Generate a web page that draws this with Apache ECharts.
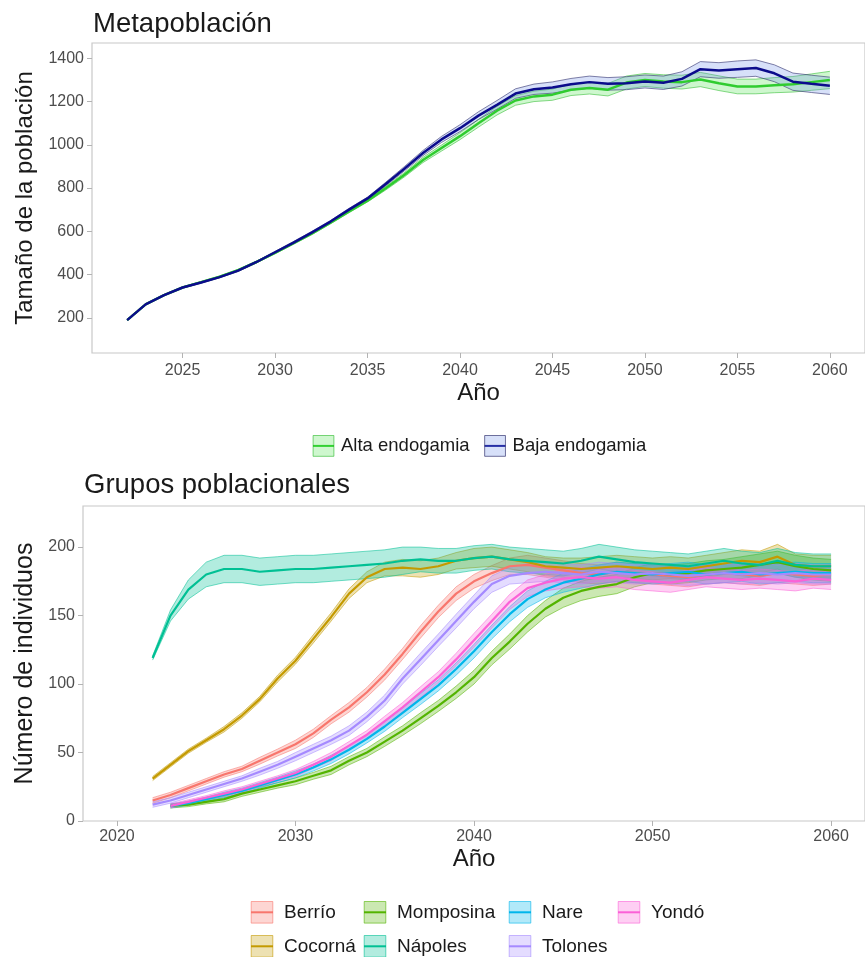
<!DOCTYPE html>
<html>
<head>
<meta charset="utf-8">
<script src="https://cdn.jsdelivr.net/npm/echarts@6/dist/echarts.min.js"></script>
<style>
  html, body { margin: 0; padding: 0; background: #ffffff; }
  #chart { width: 865px; height: 957px; }
</style>
</head>
<body>
<div id="chart"></div>
<script>
// años simulados
var years = [2022, 2023, 2024, 2025, 2026, 2027, 2028, 2029, 2030, 2031,
             2032, 2033, 2034, 2035, 2036, 2037, 2038, 2039, 2040, 2041,
             2042, 2043, 2044, 2045, 2046, 2047, 2048, 2049, 2050, 2051,
             2052, 2053, 2054, 2055, 2056, 2057, 2058, 2059, 2060];

// --- Metapoblación: media y semiancho de la banda ---
var altaMean = [189, 262, 305, 340, 365, 390, 420, 458, 500, 545,
                590, 640, 692, 742, 800, 862, 930, 985, 1040, 1100,
                1158, 1205, 1224, 1232, 1255, 1263, 1255, 1288, 1300, 1293,
                1290, 1302, 1285, 1270, 1270, 1276, 1280, 1290, 1300];
var altaHalf = [3, 3, 3, 3, 3, 3, 4, 4, 4, 5,
                5, 5, 6, 6, 8, 10, 12, 14, 16, 18,
                20, 22, 24, 26, 27, 28, 29, 30, 30, 31,
                32, 33, 34, 34, 34, 35, 36, 38, 40];
var bajaMean = [189, 262, 305, 340, 363, 388, 418, 458, 503, 548,
                595, 645, 700, 752, 820, 890, 962, 1025, 1077, 1135,
                1185, 1237, 1257, 1265, 1280, 1290, 1282, 1285, 1293, 1287,
                1305, 1350, 1344, 1350, 1355, 1331, 1292, 1282, 1273];
var bajaHalf = [3, 3, 3, 3, 3, 3, 4, 4, 4, 5,
                5, 5, 6, 6, 8, 10, 12, 14, 16, 18,
                20, 22, 24, 26, 27, 28, 29, 30, 30, 31,
                33, 35, 36, 38, 38, 39, 40, 40, 40];

// --- Grupos poblacionales ---
var grupos = ['Berrío', 'Cocorná', 'Momposina', 'Nápoles', 'Nare', 'Tolones', 'Yondó'];
var grupoColors = ['#F8766D', '#C49A00', '#53B400', '#00C094', '#00B6EB', '#A58AFF', '#FB61D7'];

var berrioMean = [15, 19, 24, 29, 34, 38, 44, 50, 56, 64,
                  74, 83, 94, 107, 122, 138, 153, 166, 175, 181,
                  186, 187, 185, 183, 181, 180, 182, 181, 180, 179,
                  178, 180, 181, 180, 179, 181, 180, 179, 180];
var berrioHalf = [2, 2, 2, 2, 2, 2, 2.5, 2.5, 3, 3,
                  3, 3.5, 3.5, 4, 4, 4.5, 4.5, 5, 5, 5.5,
                  6, 7, 7, 7, 7, 7, 7, 7, 7, 7,
                  7, 7, 7, 7, 7, 7, 7, 7, 7];
var cocornaMean = [31, 41, 51, 59, 67, 77, 89, 104, 117, 133,
                   149, 166, 178, 184, 185, 184, 186, 190, 192, 193,
                   191, 189, 186, 185, 184, 185, 186, 185, 184, 185,
                   184, 186, 188, 190, 189, 193, 187, 186, 186];
var cocornaHalf = [1.5, 1.5, 1.5, 1.5, 2, 2, 2, 2.5, 2.5, 3,
                   3, 3.5, 4, 5, 6, 6, 6, 6, 7, 7,
                   7, 7, 7, 7, 8, 8, 8, 8, 8, 8,
                   8, 8, 8, 8, 8, 9, 8, 8, 8];
var momposinaMean = [null, 11, 12, 14, 16, 20, 23, 26, 29, 33,
                     37, 44, 50, 58, 66, 75, 84, 94, 105, 119,
                     131, 144, 155, 163, 168, 171, 173, 178, 181, 180,
                     181, 183, 184, 185, 187, 189, 186, 184, 183];
var momposinaHalf = [null, 1.5, 1.5, 1.5, 2, 2, 2, 2, 2.5, 2.5,
                     3, 3, 3, 3.5, 3.5, 4, 4, 4.5, 5, 5,
                     5.5, 6, 6, 7, 7, 7, 7, 7, 7, 7,
                     7, 7, 7, 8, 8, 8, 8, 8, 8];
var napolesMean = [119, 150, 169, 180, 184, 184, 182, 183, 184, 184,
                   185, 186, 187, 188, 190, 191, 190, 190, 192, 193,
                   191, 190, 189, 188, 190, 193, 191, 189, 188, 187,
                   186, 188, 190, 188, 187, 190, 187, 186, 186];
var napolesHalf = [1.5, 4, 7, 9, 10, 10, 10, 10, 10, 10,
                   10, 10, 10, 10, 10, 9, 9, 9, 9, 9,
                   9, 9, 9, 9, 9, 9, 9, 9, 9, 9,
                   9, 9, 9, 9, 9, 9, 9, 9, 9];
var nareMean = [null, 11, 13, 16, 19, 22, 26, 30, 34, 39,
                45, 52, 60, 69, 79, 89, 99, 111, 124, 138,
                151, 162, 169, 174, 177, 180, 182, 181, 180, 181,
                182, 180, 181, 182, 180, 181, 182, 181, 181];
var nareHalf = [null, 1.5, 1.5, 1.5, 2, 2, 2, 2, 2.5, 2.5,
                3, 3, 3, 3.5, 3.5, 4, 4, 4.5, 5, 5,
                5.5, 6, 6, 7, 7, 7, 7, 7, 7, 7,
                7, 7, 7, 7, 7, 7, 7, 7, 7];
var tolonesMean = [12, 15, 19, 23, 27, 31, 36, 41, 47, 53,
                   59, 66, 76, 88, 104, 118, 132, 146, 160, 173,
                   179, 181, 182, 181, 180, 182, 181, 180, 181, 180,
                   179, 180, 181, 180, 181, 180, 181, 180, 180];
var tolonesHalf = [2, 2, 2, 2, 2, 2, 2.5, 2.5, 3, 3,
                   3, 3.5, 3.5, 4, 4, 4.5, 4.5, 5, 5, 6,
                   6, 7, 7, 7, 7, 7, 7, 7, 7, 7,
                   7, 7, 7, 7, 7, 7, 7, 7, 7];
var yondoMean = [null, 11, 14, 17, 20, 23, 27, 31, 35, 41,
                 47, 55, 63, 73, 83, 94, 105, 118, 132, 146,
                 160, 170, 174, 177, 178, 177, 178, 176, 175, 174,
                 176, 178, 177, 176, 177, 176, 175, 177, 176];
var yondoHalf = [null, 1.5, 1.5, 1.5, 2, 2, 2, 2, 2.5, 2.5,
                 3, 3, 3, 3.5, 3.5, 4, 4, 4.5, 5, 5,
                 5.5, 6, 6, 7, 7, 7, 7, 7, 7, 7,
                 7, 7, 7, 7, 7, 7, 7, 7, 7];

var grupoMeans = [berrioMean, cocornaMean, momposinaMean, napolesMean, nareMean, tolonesMean, yondoMean];
var grupoHalfs = [berrioHalf, cocornaHalf, momposinaHalf, napolesHalf, nareHalf, tolonesHalf, yondoHalf];

// ticks
var xTicksTop = [2025, 2030, 2035, 2040, 2045, 2050, 2055, 2060];
var yTicksTop = [200, 400, 600, 800, 1000, 1200, 1400];
var xTicksBottom = [2020, 2030, 2040, 2050, 2060];
var yTicksBottom = [0, 50, 100, 150, 200];

var FONT = '"Liberation Sans", Arial, sans-serif';

function rgba(hex, a) {
  var r = parseInt(hex.slice(1, 3), 16), g = parseInt(hex.slice(3, 5), 16), b = parseInt(hex.slice(5, 7), 16);
  return 'rgba(' + r + ',' + g + ',' + b + ',' + a + ')';
}

function lineSeries(name, mean, color, width, idx) {
  var data = [];
  years.forEach(function (y, i) { if (mean[i] != null) data.push([y, mean[i]]); });
  return {
    type: 'line', name: name, xAxisIndex: idx, yAxisIndex: idx,
    data: data, symbol: 'rect', showSymbol: false, silent: true, z: 5,
    lineStyle: { color: color, width: width }, itemStyle: { color: color }
  };
}

// ribbon = banda entre mean-half y mean+half, con borde fino
function ribbonSeries(name, mean, half, fill, stroke, idx) {
  var data = [];
  years.forEach(function (y, i) {
    if (mean[i] != null) data.push([y, mean[i] - half[i], mean[i] + half[i]]);
  });
  var n = data.length;
  return {
    type: 'custom', name: name, xAxisIndex: idx, yAxisIndex: idx,
    data: data, encode: { x: 0, y: [1, 2] }, silent: true, z: 3,
    renderItem: function (params, api) {
      if (params.dataIndexInside !== 0) return;
      var up = [], lo = [];
      for (var j = 0; j < n; j++) {
        up.push(api.coord([api.value(0, j), api.value(2, j)]));
        lo.push(api.coord([api.value(0, j), api.value(1, j)]));
      }
      return {
        type: 'group',
        children: [
          { type: 'polygon', shape: { points: up.concat(lo.slice().reverse()) }, style: { fill: fill } },
          { type: 'polyline', shape: { points: up }, style: { stroke: stroke, lineWidth: 0.9, fill: null } },
          { type: 'polyline', shape: { points: lo }, style: { stroke: stroke, lineWidth: 0.9, fill: null } }
        ]
      };
    }
  };
}

var altaLine = '#2fcc2f', altaFill = 'rgba(60,225,60,0.25)', altaStroke = 'rgba(40,185,40,0.6)';
var bajaLine = '#0b0b8c', bajaFill = 'rgba(110,145,235,0.28)', bajaStroke = 'rgba(55,55,115,0.7)';

var series = [];
series.push(lineSeries('Alta endogamia', altaMean, altaLine, 2.5, 0));
series.push(lineSeries('Baja endogamia', bajaMean, bajaLine, 2.5, 0));
series.push(ribbonSeries('Alta endogamia', altaMean, altaHalf, altaFill, altaStroke, 0));
series.push(ribbonSeries('Baja endogamia', bajaMean, bajaHalf, bajaFill, bajaStroke, 0));
grupos.forEach(function (g, k) {
  series.push(lineSeries(g, grupoMeans[k], grupoColors[k], 2.2, 1));
});
grupos.forEach(function (g, k) {
  series.push(ribbonSeries(g, grupoMeans[k], grupoHalfs[k], rgba(grupoColors[k], 0.3), rgba(grupoColors[k], 0.6), 1));
});

function plain(v) { return String(v); }

function xAxis(idx, min, max, ticks, margin, gap) {
  return {
    type: 'value', gridIndex: idx, min: min, max: max,
    name: 'Año', nameLocation: 'middle', nameGap: gap,
    nameTextStyle: { fontSize: 24, color: '#1a1a1a', fontFamily: FONT },
    axisLine: { show: false },
    axisTick: { show: true, length: 5, customValues: ticks, lineStyle: { color: '#b3b3b3' } },
    axisLabel: { customValues: ticks, formatter: plain, margin: margin, fontSize: 16, color: '#4d4d4d', fontFamily: FONT },
    splitLine: { show: false }
  };
}
function yAxis(idx, min, max, ticks, name, gap, size) {
  return {
    type: 'value', gridIndex: idx, min: min, max: max,
    name: name, nameLocation: 'middle', nameGap: gap, nameRotate: 90,
    nameTextStyle: { fontSize: size, color: '#1a1a1a', fontFamily: FONT },
    axisLine: { show: false },
    axisTick: { show: true, length: 5, customValues: ticks, lineStyle: { color: '#b3b3b3' } },
    axisLabel: { customValues: ticks, formatter: plain, margin: 8, fontSize: 16, color: '#4d4d4d', fontFamily: FONT },
    splitLine: { show: false }
  };
}

function legendItem(name, fill, stroke, line) {
  return { name: name, itemStyle: { color: fill, borderColor: stroke, borderWidth: 1 }, lineStyle: { color: line, width: 2 } };
}

var legends = [{
  left: 307, top: 430, orient: 'horizontal', itemWidth: 21, itemHeight: 26, itemGap: 14,
  selectedMode: false,
  textStyle: { fontSize: 18.5, color: '#1a1a1a', fontFamily: FONT, padding: [0, 0, 0, 2] },
  data: [legendItem('Alta endogamia', altaFill, altaStroke, altaLine),
         legendItem('Baja endogamia', bajaFill, bajaStroke, bajaLine)]
}];
// una leyenda por grupo, en cuatro columnas y dos filas
var legendLeft = [245, 245, 358, 358, 503, 503, 612];
var legendTop = [896, 930, 896, 930, 896, 930, 896];
grupos.forEach(function (g, k) {
  legends.push({
    left: legendLeft[k], top: legendTop[k], itemWidth: 22, itemHeight: 27,
    selectedMode: false,
    textStyle: { fontSize: 19, color: '#1a1a1a', fontFamily: FONT, padding: [0, 0, 0, 6] },
    data: [legendItem(g, rgba(grupoColors[k], 0.3), rgba(grupoColors[k], 0.6), grupoColors[k])]
  });
});

var chart = echarts.init(document.getElementById('chart'), null, { renderer: 'canvas' });
chart.setOption({
  animation: false,
  backgroundColor: '#ffffff',
  title: [
    { text: 'Metapoblación', left: 88, top: 5, textStyle: { fontSize: 27.5, fontWeight: 'normal', color: '#1a1a1a', fontFamily: FONT } },
    { text: 'Grupos poblacionales', left: 79, top: 466, textStyle: { fontSize: 27.5, fontWeight: 'normal', color: '#1a1a1a', fontFamily: FONT } }
  ],
  grid: [
    { left: 92, top: 43, width: 776, height: 310, show: true, borderColor: '#c8c8c8', borderWidth: 1.2, backgroundColor: '#ffffff' },
    { left: 83, top: 506, width: 786, height: 315, show: true, borderColor: '#c8c8c8', borderWidth: 1.2, backgroundColor: '#ffffff' }
  ],
  xAxis: [
    xAxis(0, 2020.1, 2061.9, xTicksTop, 10, 28),
    xAxis(1, 2018.1, 2061.9, xTicksBottom, 8, 26)
  ],
  yAxis: [
    yAxis(0, 37, 1471, yTicksTop, 'Tamaño de la población', 54, 24),
    yAxis(1, 0, 230, yTicksBottom, 'Número de individuos', 43, 25)
  ],
  legend: legends,
  series: series
});
</script>
</body>
</html>
